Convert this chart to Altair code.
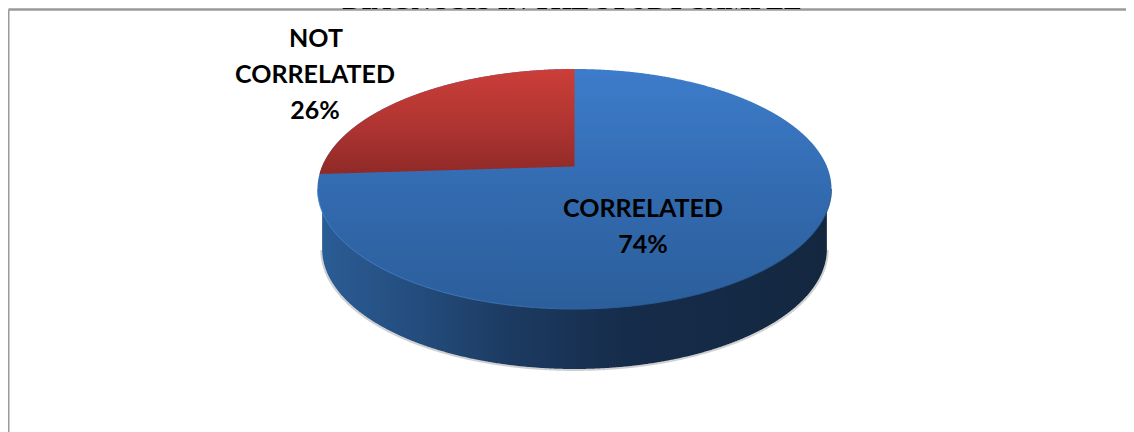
import numpy as np
import pandas as pd
import altair as alt

# ---- chart values ----
categories = ["CORRELATED", "NOT CORRELATED"]
shares = [74, 26]
title_line = "DIAGNOSIS IN THE STUDY SAMPLE"

# ---- drawing set-up (pixels inside the plot) ----
W, H = 1118, 424
CX, CY, RX, RY = 566.5, 181.0, 257.0, 120.0   # top-face ellipse
x_scale = alt.Scale(domain=[-CX / RX, (W - CX) / RX], range=[0, W], nice=False, zero=False)
y_scale = alt.Scale(domain=[(CY - H) / RY, CY / RY], range=[H, 0], nice=False, zero=False)
APEX = (CY - 158.5) / RY                      # apparent centre of the tilted disc
BOTTOM_SCALE = 0.982                          # far rim looks slightly narrower
DEPTH = 60.0 / RY


def X(field):
    return alt.X(field, type="quantitative", scale=x_scale, axis=None)


def Y(field):
    return alt.Y(field, type="quantitative", scale=y_scale, axis=None)


def vgrad(*stops):
    return alt.Gradient(gradient="linear", x1=0, x2=0, y1=0, y2=1,
                        stops=[alt.GradientStop(color=c, offset=o) for o, c in stops])


def hgrad(*stops):
    return alt.Gradient(gradient="linear", x1=0, x2=1, y1=0, y2=0,
                        stops=[alt.GradientStop(color=c, offset=o) for o, c in stops])


# unit-disc outlines
u = np.cos(np.linspace(np.pi, 0, 721))
upper = np.sqrt(np.clip(1 - u ** 2, 0, 1))

top_df = pd.DataFrame({"x": u, "y": upper, "y2": -upper})

bx = u * BOTTOM_SCALE
wall_df = pd.DataFrame({"x": bx, "y": -upper - DEPTH, "y2": 0.0 * u})
shadow_df = pd.DataFrame({"x": bx * 1.003, "y": -upper - DEPTH - 0.008})

# the smaller slice, measured counter-clockwise from twelve o'clock
theta = 2 * np.pi * shares[1] / sum(shares)
ts = np.linspace(0, 1.5, 6001)
px, py = -np.sin(theta) * ts, APEX + np.cos(theta) * ts
t_end = ts[np.argmax(px ** 2 + py ** 2 >= 1)]
x_end = -np.sin(theta) * t_end
rx = np.linspace(x_end, 0, 500)
red_df = pd.DataFrame({
    "x": rx,
    "y": np.sqrt(np.clip(1 - rx ** 2, 0, 1)),
    "y2": APEX + (rx / x_end) * (np.cos(theta) * t_end),
})

rim_df = pd.DataFrame({"x": u, "y": -upper})

shadow = alt.Chart(shadow_df).mark_line(color="#8a8a8a", strokeWidth=2, opacity=0.4).encode(
    x=X("x"), y=Y("y"), order=alt.Order("x:Q"))
wall = alt.Chart(wall_df).mark_area(
    color=hgrad((0, "#2B5C95"), (0.18, "#244D7E"), (0.38, "#1C3A60"), (0.6, "#162C4B"), (1, "#13273F"))
).encode(x=X("x"), y=Y("y"), y2=alt.Y2("y2"))
top = alt.Chart(top_df).mark_area(
    color=vgrad((0, "#3D7CCB"), (0.5, "#336BB0"), (1, "#2B5E9B"))
).encode(x=X("x"), y=Y("y"), y2=alt.Y2("y2"))
rim = alt.Chart(rim_df).mark_line(
    strokeWidth=1,
    color=hgrad((0, "#4383CE"), (0.35, "#3B74B9"), (0.6, "#2B5E9B"), (1, "#264F80")),
).encode(x=X("x"), y=Y("y"), order=alt.Order("x:Q"))
red = alt.Chart(red_df).mark_area(
    color=vgrad((0, "#CB3E39"), (0.55, "#AE3431"), (1, "#8F2A27"))
).encode(x=X("x"), y=Y("y"), y2=alt.Y2("y2"))

pix_x = alt.Scale(domain=[0, W], range=[0, W], clamp=False)
pix_y = alt.Scale(domain=[0, H], range=[0, H], clamp=False)

# labels
label_df = pd.DataFrame({
    "text": ["NOT", "CORRELATED", f"{shares[1]}%", categories[0], f"{shares[0]}%"],
    "px": [308, 307, 307, 635, 635],
    "py": [31, 67, 102.5, 200.5, 236.5],
})
labels = alt.Chart(label_df).mark_text(
    font="Lato", fontWeight="bold", fontSize=25, color="#000000", baseline="middle", align="center"
).encode(x=alt.X("px:Q", scale=pix_x, axis=None),
         y=alt.Y("py:Q", scale=pix_y, axis=None),
         text="text:N")

# frame and the cropped title line
frame_df = pd.DataFrame({"fx": [0.5], "fx2": [W + 8], "fy": [1.5], "fy2": [H + 8]})
frame_top = alt.Chart(frame_df).mark_rule(color="#9a9a9a", strokeWidth=2.4).encode(
    x=alt.X("fx:Q", scale=pix_x, axis=None), x2="fx2:Q",
    y=alt.Y("fy:Q", scale=pix_y, axis=None))
frame_left = alt.Chart(frame_df).mark_rule(color="#9a9a9a", strokeWidth=2).encode(
    x=alt.X("fx:Q", scale=pix_x, axis=None),
    y=alt.Y("fy:Q", scale=pix_y, axis=None), y2="fy2:Q")
title = alt.Chart(pd.DataFrame({"t": [title_line], "tx": [564], "ty": [0.6]})).mark_text(
    font="Liberation Serif", fontWeight="bold", fontSize=26.5, baseline="alphabetic", align="center",
    color="#000000", clip=False,
).encode(x=alt.X("tx:Q", scale=pix_x, axis=None),
         y=alt.Y("ty:Q", scale=pix_y, axis=None), text="t:N")

chart = alt.layer(
    frame_top, frame_left, title, shadow, wall, top, rim, red, labels
).resolve_scale(x="independent", y="independent").properties(
    width=W, height=H, padding=0,
    autosize=alt.AutoSizeParams(type="none"),
    background="#ffffff",
).configure_view(stroke=None)

chart.save("out.html", embed_options={"renderer": "svg", "actions": False})
